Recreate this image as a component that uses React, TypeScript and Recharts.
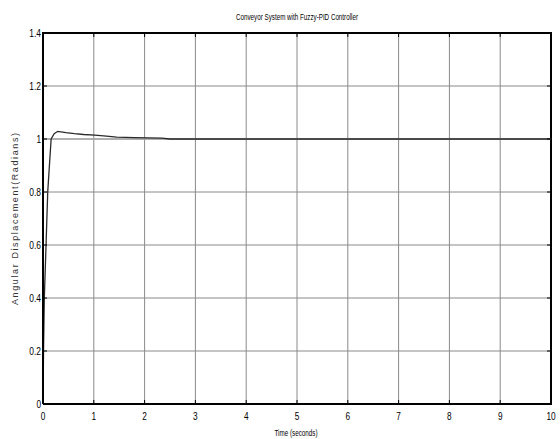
import React from "react";
import {
  LineChart,
  Line,
  XAxis,
  YAxis,
  CartesianGrid,
} from "recharts";

// step response
const times = [0, 0.01, 0.026, 0.06, 0.093, 0.16, 0.22, 0.29, 0.45, 0.62, 0.8, 1.02, 1.25, 1.45, 1.8, 2.34, 2.5, 4, 6, 8, 10];
const response = [0, 0.2, 0.4, 0.6, 0.8, 1.0, 1.02, 1.029, 1.024, 1.02, 1.017, 1.015, 1.011, 1.007, 1.005, 1.003, 1.0, 1.0, 1.0, 1.0, 1.0];
const setpointTimes = [0, 10];
const setpointValues = [1, 1];

const xTicks = [0, 1, 2, 3, 4, 5, 6, 7, 8, 9, 10];
const yTicks = [0, 0.2, 0.4, 0.6, 0.8, 1, 1.2, 1.4];

const responseData = times.map((t, i) => ({ t, v: response[i] }));
const setpointData = setpointTimes.map((t, i) => ({ t, v: setpointValues[i] }));

const FONT = "'Liberation Sans', Arial, sans-serif";
const TOP = 33;
const RIGHT = 551;

// squeeze labels to look like the narrow matlab font
const labelWidth = (s: string) =>
  s.split("").reduce((w, c) => w + (c === "." ? 2.5 : 4.6), 0);

const BottomTick = (props: any) => {
  const { x, y, payload } = props;
  const s = String(payload.value);
  return (
    <g>
      <line x1={x} y1={y} x2={x} y2={y - 4} stroke="#000" />
      <line x1={x} y1={TOP} x2={x} y2={TOP + 4} stroke="#000" />
      <text
        x={x}
        y={y + 16}
        textAnchor="middle"
        fontSize={11}
        fontFamily={FONT}
        fill="#000"
        textLength={labelWidth(s)}
        lengthAdjust="spacingAndGlyphs"
      >
        {s}
      </text>
    </g>
  );
};

const LeftTick = (props: any) => {
  const { x, y, payload } = props;
  const s = String(payload.value);
  return (
    <g>
      <line x1={x} y1={y} x2={x + 4} y2={y} stroke="#000" />
      <line x1={RIGHT} y1={y} x2={RIGHT - 4} y2={y} stroke="#000" />
      <text
        x={x - 2}
        y={y + 4}
        textAnchor="end"
        fontSize={11}
        fontFamily={FONT}
        fill="#000"
        textLength={labelWidth(s)}
        lengthAdjust="spacingAndGlyphs"
      >
        {s}
      </text>
    </g>
  );
};

export default function App() {
  return (
    <div style={{ position: "absolute", left: 0, top: 0, background: "#fff" }}>
      <LineChart
        width={560}
        height={439}
        margin={{ top: TOP, right: 560 - RIGHT, bottom: 0, left: 0 }}
      >
        <CartesianGrid
          xAxisId="bottom"
          yAxisId="left"
          stroke="#8a8a8a"
          strokeWidth={1}
        />
        <XAxis
          dataKey="t"
          type="number"
          domain={[0, 10]}
          ticks={xTicks}
          xAxisId="bottom"
          orientation="bottom"
          height={35}
          tickSize={0}
          tickMargin={0}
          tickLine={false}
          tick={<BottomTick />}
          axisLine={{ stroke: "#000", strokeWidth: 2 }}
          allowDataOverflow
        />
        <YAxis
          type="number"
          domain={[0, 1.4]}
          ticks={yTicks}
          yAxisId="left"
          orientation="left"
          width={43}
          tickSize={0}
          tickMargin={0}
          tickLine={false}
          tick={<LeftTick />}
          axisLine={{ stroke: "#000", strokeWidth: 2 }}
          allowDataOverflow
        />
        <Line
          data={setpointData}
          dataKey="v"
          xAxisId="bottom"
          yAxisId="left"
          stroke="#a8a8a8"
          strokeWidth={1.5}
          dot={false}
          isAnimationActive={false}
        />
        <Line
          data={responseData}
          dataKey="v"
          xAxisId="bottom"
          yAxisId="left"
          type="linear"
          stroke="#2a2a2a"
          strokeWidth={1.3}
          dot={false}
          isAnimationActive={false}
        />
        {/* top and right frame edges */}
        <line x1={42} y1={TOP} x2={RIGHT + 1} y2={TOP} stroke="#000" strokeWidth={2} />
        <line x1={RIGHT} y1={TOP} x2={RIGHT} y2={405} stroke="#000" strokeWidth={2} />
        <text
          x={297}
          y={20}
          textAnchor="middle"
          fontSize={9}
          fontFamily={FONT}
          textLength={122}
          lengthAdjust="spacingAndGlyphs"
        >
          Conveyor System with Fuzzy-PID Controller
        </text>
        <text
          x={296}
          y={436}
          textAnchor="middle"
          fontSize={9}
          fontFamily={FONT}
          textLength={43}
          lengthAdjust="spacingAndGlyphs"
        >
          Time (seconds)
        </text>
        <text
          x={18}
          y={219}
          transform="rotate(-90 18 219)"
          textAnchor="middle"
          fontSize={9}
          fontFamily={FONT}
          fill="#333"
          textLength={172}
          lengthAdjust="spacing"
        >
          Angular Displacement(Radians)
        </text>
      </LineChart>
    </div>
  );
}
